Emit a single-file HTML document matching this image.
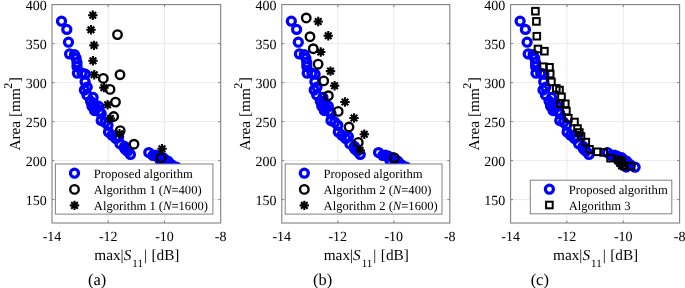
<!DOCTYPE html>
<html><head><meta charset="utf-8"><style>
html,body{margin:0;padding:0;background:#fff;}
body{width:685px;height:288px;overflow:hidden;}
svg{display:block;will-change:transform;}
text{font-family:"Liberation Serif",serif;fill:#000;text-rendering:geometricPrecision;}
</style></head><body>
<svg width="685" height="288" viewBox="0 0 685 288">
<line x1="108.23" y1="4.6" x2="108.23" y2="223.0" stroke="#e3e3e3" stroke-width="0.8"/>
<line x1="164.47" y1="4.6" x2="164.47" y2="223.0" stroke="#e3e3e3" stroke-width="0.8"/>
<line x1="52.0" y1="199.60" x2="220.7" y2="199.60" stroke="#e3e3e3" stroke-width="0.8"/>
<line x1="52.0" y1="160.60" x2="220.7" y2="160.60" stroke="#e3e3e3" stroke-width="0.8"/>
<line x1="52.0" y1="121.60" x2="220.7" y2="121.60" stroke="#e3e3e3" stroke-width="0.8"/>
<line x1="52.0" y1="82.60" x2="220.7" y2="82.60" stroke="#e3e3e3" stroke-width="0.8"/>
<line x1="52.0" y1="43.60" x2="220.7" y2="43.60" stroke="#e3e3e3" stroke-width="0.8"/>
<circle cx="61.50" cy="21.20" r="4.05" fill="none" stroke="#0000ff" stroke-width="3.2"/>
<circle cx="66.80" cy="29.40" r="4.05" fill="none" stroke="#0000ff" stroke-width="3.2"/>
<circle cx="68.50" cy="42.20" r="4.05" fill="none" stroke="#0000ff" stroke-width="3.2"/>
<circle cx="69.60" cy="53.90" r="4.05" fill="none" stroke="#0000ff" stroke-width="3.2"/>
<circle cx="74.50" cy="54.70" r="4.05" fill="none" stroke="#0000ff" stroke-width="3.2"/>
<circle cx="76.10" cy="58.20" r="4.05" fill="none" stroke="#0000ff" stroke-width="3.2"/>
<circle cx="77.00" cy="62.70" r="4.05" fill="none" stroke="#0000ff" stroke-width="3.2"/>
<circle cx="77.00" cy="66.60" r="4.05" fill="none" stroke="#0000ff" stroke-width="3.2"/>
<circle cx="77.40" cy="73.20" r="4.05" fill="none" stroke="#0000ff" stroke-width="3.2"/>
<circle cx="82.10" cy="73.20" r="4.05" fill="none" stroke="#0000ff" stroke-width="3.2"/>
<circle cx="85.30" cy="74.20" r="4.05" fill="none" stroke="#0000ff" stroke-width="3.2"/>
<circle cx="85.10" cy="81.70" r="4.05" fill="none" stroke="#0000ff" stroke-width="3.2"/>
<circle cx="87.20" cy="87.20" r="4.05" fill="none" stroke="#0000ff" stroke-width="3.2"/>
<circle cx="84.40" cy="90.00" r="4.05" fill="none" stroke="#0000ff" stroke-width="3.2"/>
<circle cx="86.90" cy="94.90" r="4.05" fill="none" stroke="#0000ff" stroke-width="3.2"/>
<circle cx="93.10" cy="97.50" r="4.05" fill="none" stroke="#0000ff" stroke-width="3.2"/>
<circle cx="90.50" cy="101.20" r="4.05" fill="none" stroke="#0000ff" stroke-width="3.2"/>
<circle cx="93.50" cy="103.70" r="4.05" fill="none" stroke="#0000ff" stroke-width="3.2"/>
<circle cx="92.00" cy="106.20" r="4.05" fill="none" stroke="#0000ff" stroke-width="3.2"/>
<circle cx="96.00" cy="108.20" r="4.05" fill="none" stroke="#0000ff" stroke-width="3.2"/>
<circle cx="94.50" cy="110.50" r="4.05" fill="none" stroke="#0000ff" stroke-width="3.2"/>
<circle cx="98.50" cy="106.20" r="4.05" fill="none" stroke="#0000ff" stroke-width="3.2"/>
<circle cx="99.50" cy="111.20" r="4.05" fill="none" stroke="#0000ff" stroke-width="3.2"/>
<circle cx="101.20" cy="113.80" r="4.05" fill="none" stroke="#0000ff" stroke-width="3.2"/>
<circle cx="101.20" cy="120.60" r="4.05" fill="none" stroke="#0000ff" stroke-width="3.2"/>
<circle cx="105.00" cy="122.20" r="4.05" fill="none" stroke="#0000ff" stroke-width="3.2"/>
<circle cx="108.00" cy="125.30" r="4.05" fill="none" stroke="#0000ff" stroke-width="3.2"/>
<circle cx="108.50" cy="132.10" r="4.05" fill="none" stroke="#0000ff" stroke-width="3.2"/>
<circle cx="112.00" cy="135.20" r="4.05" fill="none" stroke="#0000ff" stroke-width="3.2"/>
<circle cx="115.90" cy="138.60" r="4.05" fill="none" stroke="#0000ff" stroke-width="3.2"/>
<circle cx="118.60" cy="136.70" r="4.05" fill="none" stroke="#0000ff" stroke-width="3.2"/>
<circle cx="120.00" cy="143.80" r="4.05" fill="none" stroke="#0000ff" stroke-width="3.2"/>
<circle cx="124.50" cy="148.00" r="4.05" fill="none" stroke="#0000ff" stroke-width="3.2"/>
<circle cx="125.20" cy="149.20" r="4.05" fill="none" stroke="#0000ff" stroke-width="3.2"/>
<circle cx="127.50" cy="151.20" r="4.05" fill="none" stroke="#0000ff" stroke-width="3.2"/>
<circle cx="130.40" cy="154.40" r="4.05" fill="none" stroke="#0000ff" stroke-width="3.2"/>
<circle cx="124.60" cy="146.50" r="4.05" fill="none" stroke="#0000ff" stroke-width="3.2"/>
<circle cx="148.80" cy="152.60" r="4.05" fill="none" stroke="#0000ff" stroke-width="3.2"/>
<circle cx="153.00" cy="155.40" r="4.05" fill="none" stroke="#0000ff" stroke-width="3.2"/>
<circle cx="155.50" cy="155.20" r="4.05" fill="none" stroke="#0000ff" stroke-width="3.2"/>
<circle cx="158.50" cy="156.20" r="4.05" fill="none" stroke="#0000ff" stroke-width="3.2"/>
<circle cx="163.00" cy="157.70" r="4.05" fill="none" stroke="#0000ff" stroke-width="3.2"/>
<circle cx="160.00" cy="160.20" r="4.05" fill="none" stroke="#0000ff" stroke-width="3.2"/>
<circle cx="165.50" cy="160.20" r="4.05" fill="none" stroke="#0000ff" stroke-width="3.2"/>
<circle cx="168.00" cy="161.20" r="4.05" fill="none" stroke="#0000ff" stroke-width="3.2"/>
<circle cx="171.50" cy="164.70" r="4.05" fill="none" stroke="#0000ff" stroke-width="3.2"/>
<circle cx="167.60" cy="167.00" r="4.05" fill="none" stroke="#0000ff" stroke-width="3.2"/>
<circle cx="176.50" cy="167.20" r="4.05" fill="none" stroke="#0000ff" stroke-width="3.2"/>
<circle cx="117.50" cy="34.60" r="4.25" fill="none" stroke="#000" stroke-width="2.35"/>
<circle cx="103.30" cy="78.40" r="4.25" fill="none" stroke="#000" stroke-width="2.35"/>
<circle cx="120.00" cy="74.70" r="4.25" fill="none" stroke="#000" stroke-width="2.35"/>
<circle cx="110.00" cy="89.40" r="4.25" fill="none" stroke="#000" stroke-width="2.35"/>
<circle cx="115.50" cy="102.10" r="4.25" fill="none" stroke="#000" stroke-width="2.35"/>
<circle cx="113.70" cy="116.50" r="4.25" fill="none" stroke="#000" stroke-width="2.35"/>
<circle cx="120.20" cy="130.60" r="4.25" fill="none" stroke="#000" stroke-width="2.35"/>
<circle cx="134.00" cy="144.20" r="4.25" fill="none" stroke="#000" stroke-width="2.35"/>
<circle cx="161.00" cy="157.90" r="4.25" fill="none" stroke="#000" stroke-width="2.35"/>
<path d="M92.80 10.60V20.00M88.10 15.30H97.50M89.50 12.00L96.10 18.60M89.50 18.60L96.10 12.00" stroke="#000" stroke-width="2.1" fill="none"/>
<path d="M91.00 25.00V34.40M86.30 29.70H95.70M87.70 26.40L94.30 33.00M87.70 33.00L94.30 26.40" stroke="#000" stroke-width="2.1" fill="none"/>
<path d="M94.00 40.70V50.10M89.30 45.40H98.70M90.70 42.10L97.30 48.70M90.70 48.70L97.30 42.10" stroke="#000" stroke-width="2.1" fill="none"/>
<path d="M93.00 56.00V65.40M88.30 60.70H97.70M89.70 57.40L96.30 64.00M89.70 64.00L96.30 57.40" stroke="#000" stroke-width="2.1" fill="none"/>
<path d="M94.20 70.10V79.50M89.50 74.80H98.90M90.90 71.50L97.50 78.10M90.90 78.10L97.50 71.50" stroke="#000" stroke-width="2.1" fill="none"/>
<path d="M103.90 82.90V92.30M99.20 87.60H108.60M100.60 84.30L107.20 90.90M100.60 90.90L107.20 84.30" stroke="#000" stroke-width="2.1" fill="none"/>
<path d="M107.60 100.10V109.50M102.90 104.80H112.30M104.30 101.50L110.90 108.10M104.30 108.10L110.90 101.50" stroke="#000" stroke-width="2.1" fill="none"/>
<path d="M110.40 113.80V123.20M105.70 118.50H115.10M107.10 115.20L113.70 121.80M107.10 121.80L113.70 115.20" stroke="#000" stroke-width="2.1" fill="none"/>
<path d="M119.50 129.05V138.45M114.80 133.75H124.20M116.20 130.45L122.80 137.05M116.20 137.05L122.80 130.45" stroke="#000" stroke-width="2.1" fill="none"/>
<path d="M162.00 144.00V153.40M157.30 148.70H166.70M158.70 145.40L165.30 152.00M158.70 152.00L165.30 145.40" stroke="#000" stroke-width="2.1" fill="none"/>
<rect x="52.0" y="4.6" width="168.70" height="218.40" fill="none" stroke="#808080" stroke-width="1.1"/>
<line x1="108.23" y1="223.0" x2="108.23" y2="220.6" stroke="#808080" stroke-width="1"/>
<line x1="108.23" y1="4.6" x2="108.23" y2="7.0" stroke="#808080" stroke-width="1"/>
<line x1="164.47" y1="223.0" x2="164.47" y2="220.6" stroke="#808080" stroke-width="1"/>
<line x1="164.47" y1="4.6" x2="164.47" y2="7.0" stroke="#808080" stroke-width="1"/>
<line x1="52.0" y1="199.60" x2="54.4" y2="199.60" stroke="#808080" stroke-width="1"/>
<line x1="220.7" y1="199.60" x2="218.29999999999998" y2="199.60" stroke="#808080" stroke-width="1"/>
<line x1="52.0" y1="160.60" x2="54.4" y2="160.60" stroke="#808080" stroke-width="1"/>
<line x1="220.7" y1="160.60" x2="218.29999999999998" y2="160.60" stroke="#808080" stroke-width="1"/>
<line x1="52.0" y1="121.60" x2="54.4" y2="121.60" stroke="#808080" stroke-width="1"/>
<line x1="220.7" y1="121.60" x2="218.29999999999998" y2="121.60" stroke="#808080" stroke-width="1"/>
<line x1="52.0" y1="82.60" x2="54.4" y2="82.60" stroke="#808080" stroke-width="1"/>
<line x1="220.7" y1="82.60" x2="218.29999999999998" y2="82.60" stroke="#808080" stroke-width="1"/>
<line x1="52.0" y1="43.60" x2="54.4" y2="43.60" stroke="#808080" stroke-width="1"/>
<line x1="220.7" y1="43.60" x2="218.29999999999998" y2="43.60" stroke="#808080" stroke-width="1"/>
<text x="52.00" y="241.4" text-anchor="middle" font-size="14">-14</text>
<text x="108.23" y="241.4" text-anchor="middle" font-size="14">-12</text>
<text x="164.47" y="241.4" text-anchor="middle" font-size="14">-10</text>
<text x="220.70" y="241.4" text-anchor="middle" font-size="14">-8</text>
<text x="46.70" y="204.90" text-anchor="end" font-size="14">150</text>
<text x="46.70" y="165.90" text-anchor="end" font-size="14">200</text>
<text x="46.70" y="126.90" text-anchor="end" font-size="14">250</text>
<text x="46.70" y="87.90" text-anchor="end" font-size="14">300</text>
<text x="46.70" y="48.90" text-anchor="end" font-size="14">350</text>
<text x="46.70" y="9.90" text-anchor="end" font-size="14">400</text>
<text x="136.85" y="259.5" text-anchor="middle" font-size="15.3">max|<tspan font-style="italic">S</tspan><tspan font-size="11" dx="1" dy="7">11</tspan><tspan dx="1" dy="-7">|</tspan><tspan dx="0.6"> [dB]</tspan></text>
<text transform="translate(20.00,113.80) rotate(-90)" text-anchor="middle" font-size="15.3">Area [mm<tspan font-size="12" dx="-0.6" dy="-7.9">2</tspan><tspan dx="0.6" dy="7.9">]</tspan></text>
<rect x="55.4" y="164" width="157.50" height="50.10" fill="#fff" stroke="#808080" stroke-width="1"/>
<circle cx="74.50" cy="173.20" r="4.05" fill="none" stroke="#0000ff" stroke-width="3.2"/>
<text x="93.80" y="177.60" font-size="12.6">Proposed algorithm</text>
<circle cx="74.50" cy="189.40" r="4.25" fill="none" stroke="#000" stroke-width="2.35"/>
<text x="93.80" y="193.80" font-size="12.6">Algorithm 1 (<tspan font-style="italic">N</tspan>=400)</text>
<path d="M74.50 200.70V210.10M69.80 205.40H79.20M71.20 202.10L77.80 208.70M71.20 208.70L77.80 202.10" stroke="#000" stroke-width="2.1" fill="none"/>
<text x="93.80" y="210.00" font-size="12.6">Algorithm 1 (<tspan font-style="italic">N</tspan>=1600)</text>
<line x1="337.80" y1="4.6" x2="337.80" y2="223.0" stroke="#e3e3e3" stroke-width="0.8"/>
<line x1="393.80" y1="4.6" x2="393.80" y2="223.0" stroke="#e3e3e3" stroke-width="0.8"/>
<line x1="281.8" y1="199.60" x2="449.8" y2="199.60" stroke="#e3e3e3" stroke-width="0.8"/>
<line x1="281.8" y1="160.60" x2="449.8" y2="160.60" stroke="#e3e3e3" stroke-width="0.8"/>
<line x1="281.8" y1="121.60" x2="449.8" y2="121.60" stroke="#e3e3e3" stroke-width="0.8"/>
<line x1="281.8" y1="82.60" x2="449.8" y2="82.60" stroke="#e3e3e3" stroke-width="0.8"/>
<line x1="281.8" y1="43.60" x2="449.8" y2="43.60" stroke="#e3e3e3" stroke-width="0.8"/>
<circle cx="291.30" cy="21.20" r="4.05" fill="none" stroke="#0000ff" stroke-width="3.2"/>
<circle cx="296.60" cy="29.40" r="4.05" fill="none" stroke="#0000ff" stroke-width="3.2"/>
<circle cx="298.30" cy="42.20" r="4.05" fill="none" stroke="#0000ff" stroke-width="3.2"/>
<circle cx="299.40" cy="53.90" r="4.05" fill="none" stroke="#0000ff" stroke-width="3.2"/>
<circle cx="304.30" cy="54.70" r="4.05" fill="none" stroke="#0000ff" stroke-width="3.2"/>
<circle cx="305.90" cy="58.20" r="4.05" fill="none" stroke="#0000ff" stroke-width="3.2"/>
<circle cx="306.80" cy="62.70" r="4.05" fill="none" stroke="#0000ff" stroke-width="3.2"/>
<circle cx="306.80" cy="66.60" r="4.05" fill="none" stroke="#0000ff" stroke-width="3.2"/>
<circle cx="307.20" cy="73.20" r="4.05" fill="none" stroke="#0000ff" stroke-width="3.2"/>
<circle cx="311.90" cy="73.20" r="4.05" fill="none" stroke="#0000ff" stroke-width="3.2"/>
<circle cx="315.10" cy="74.20" r="4.05" fill="none" stroke="#0000ff" stroke-width="3.2"/>
<circle cx="314.90" cy="81.70" r="4.05" fill="none" stroke="#0000ff" stroke-width="3.2"/>
<circle cx="317.00" cy="87.20" r="4.05" fill="none" stroke="#0000ff" stroke-width="3.2"/>
<circle cx="314.20" cy="90.00" r="4.05" fill="none" stroke="#0000ff" stroke-width="3.2"/>
<circle cx="316.70" cy="94.90" r="4.05" fill="none" stroke="#0000ff" stroke-width="3.2"/>
<circle cx="322.90" cy="97.50" r="4.05" fill="none" stroke="#0000ff" stroke-width="3.2"/>
<circle cx="320.30" cy="101.20" r="4.05" fill="none" stroke="#0000ff" stroke-width="3.2"/>
<circle cx="323.30" cy="103.70" r="4.05" fill="none" stroke="#0000ff" stroke-width="3.2"/>
<circle cx="321.80" cy="106.20" r="4.05" fill="none" stroke="#0000ff" stroke-width="3.2"/>
<circle cx="325.80" cy="108.20" r="4.05" fill="none" stroke="#0000ff" stroke-width="3.2"/>
<circle cx="324.30" cy="110.50" r="4.05" fill="none" stroke="#0000ff" stroke-width="3.2"/>
<circle cx="328.30" cy="106.20" r="4.05" fill="none" stroke="#0000ff" stroke-width="3.2"/>
<circle cx="329.30" cy="111.20" r="4.05" fill="none" stroke="#0000ff" stroke-width="3.2"/>
<circle cx="331.00" cy="113.80" r="4.05" fill="none" stroke="#0000ff" stroke-width="3.2"/>
<circle cx="331.00" cy="120.60" r="4.05" fill="none" stroke="#0000ff" stroke-width="3.2"/>
<circle cx="334.80" cy="122.20" r="4.05" fill="none" stroke="#0000ff" stroke-width="3.2"/>
<circle cx="337.80" cy="125.30" r="4.05" fill="none" stroke="#0000ff" stroke-width="3.2"/>
<circle cx="338.30" cy="132.10" r="4.05" fill="none" stroke="#0000ff" stroke-width="3.2"/>
<circle cx="341.80" cy="135.20" r="4.05" fill="none" stroke="#0000ff" stroke-width="3.2"/>
<circle cx="345.70" cy="138.60" r="4.05" fill="none" stroke="#0000ff" stroke-width="3.2"/>
<circle cx="348.40" cy="136.70" r="4.05" fill="none" stroke="#0000ff" stroke-width="3.2"/>
<circle cx="349.80" cy="143.80" r="4.05" fill="none" stroke="#0000ff" stroke-width="3.2"/>
<circle cx="354.30" cy="148.00" r="4.05" fill="none" stroke="#0000ff" stroke-width="3.2"/>
<circle cx="355.00" cy="149.20" r="4.05" fill="none" stroke="#0000ff" stroke-width="3.2"/>
<circle cx="357.30" cy="151.20" r="4.05" fill="none" stroke="#0000ff" stroke-width="3.2"/>
<circle cx="360.20" cy="154.40" r="4.05" fill="none" stroke="#0000ff" stroke-width="3.2"/>
<circle cx="354.40" cy="146.50" r="4.05" fill="none" stroke="#0000ff" stroke-width="3.2"/>
<circle cx="378.60" cy="152.60" r="4.05" fill="none" stroke="#0000ff" stroke-width="3.2"/>
<circle cx="382.80" cy="155.40" r="4.05" fill="none" stroke="#0000ff" stroke-width="3.2"/>
<circle cx="385.30" cy="155.20" r="4.05" fill="none" stroke="#0000ff" stroke-width="3.2"/>
<circle cx="388.30" cy="156.20" r="4.05" fill="none" stroke="#0000ff" stroke-width="3.2"/>
<circle cx="392.80" cy="157.70" r="4.05" fill="none" stroke="#0000ff" stroke-width="3.2"/>
<circle cx="389.80" cy="160.20" r="4.05" fill="none" stroke="#0000ff" stroke-width="3.2"/>
<circle cx="395.30" cy="160.20" r="4.05" fill="none" stroke="#0000ff" stroke-width="3.2"/>
<circle cx="397.80" cy="161.20" r="4.05" fill="none" stroke="#0000ff" stroke-width="3.2"/>
<circle cx="401.30" cy="164.70" r="4.05" fill="none" stroke="#0000ff" stroke-width="3.2"/>
<circle cx="397.40" cy="167.00" r="4.05" fill="none" stroke="#0000ff" stroke-width="3.2"/>
<circle cx="406.30" cy="167.20" r="4.05" fill="none" stroke="#0000ff" stroke-width="3.2"/>
<circle cx="306.25" cy="17.95" r="4.25" fill="none" stroke="#000" stroke-width="2.35"/>
<circle cx="310.00" cy="36.70" r="4.25" fill="none" stroke="#000" stroke-width="2.35"/>
<circle cx="313.25" cy="48.70" r="4.25" fill="none" stroke="#000" stroke-width="2.35"/>
<circle cx="318.10" cy="64.20" r="4.25" fill="none" stroke="#000" stroke-width="2.35"/>
<circle cx="323.70" cy="80.90" r="4.25" fill="none" stroke="#000" stroke-width="2.35"/>
<circle cx="328.40" cy="95.70" r="4.25" fill="none" stroke="#000" stroke-width="2.35"/>
<circle cx="338.20" cy="111.40" r="4.25" fill="none" stroke="#000" stroke-width="2.35"/>
<circle cx="349.00" cy="127.00" r="4.25" fill="none" stroke="#000" stroke-width="2.35"/>
<circle cx="358.30" cy="142.40" r="4.25" fill="none" stroke="#000" stroke-width="2.35"/>
<circle cx="394.40" cy="157.80" r="4.25" fill="none" stroke="#000" stroke-width="2.35"/>
<path d="M318.25 16.80V26.20M313.55 21.50H322.95M314.95 18.20L321.55 24.80M314.95 24.80L321.55 18.20" stroke="#000" stroke-width="2.1" fill="none"/>
<path d="M328.25 31.05V40.45M323.55 35.75H332.95M324.95 32.45L331.55 39.05M324.95 39.05L331.55 32.45" stroke="#000" stroke-width="2.1" fill="none"/>
<path d="M320.75 47.30V56.70M316.05 52.00H325.45M317.45 48.70L324.05 55.30M317.45 55.30L324.05 48.70" stroke="#000" stroke-width="2.1" fill="none"/>
<path d="M330.50 66.40V75.80M325.80 71.10H335.20M327.20 67.80L333.80 74.40M327.20 74.40L333.80 67.80" stroke="#000" stroke-width="2.1" fill="none"/>
<path d="M334.60 81.00V90.40M329.90 85.70H339.30M331.30 82.40L337.90 89.00M331.30 89.00L337.90 82.40" stroke="#000" stroke-width="2.1" fill="none"/>
<path d="M345.00 97.30V106.70M340.30 102.00H349.70M341.70 98.70L348.30 105.30M341.70 105.30L348.30 98.70" stroke="#000" stroke-width="2.1" fill="none"/>
<path d="M354.00 113.30V122.70M349.30 118.00H358.70M350.70 114.70L357.30 121.30M350.70 121.30L357.30 114.70" stroke="#000" stroke-width="2.1" fill="none"/>
<path d="M364.30 129.50V138.90M359.60 134.20H369.00M361.00 130.90L367.60 137.50M361.00 137.50L367.60 130.90" stroke="#000" stroke-width="2.1" fill="none"/>
<path d="M360.10 145.50V154.90M355.40 150.20H364.80M356.80 146.90L363.40 153.50M356.80 153.50L363.40 146.90" stroke="#000" stroke-width="2.1" fill="none"/>
<rect x="281.8" y="4.6" width="168.00" height="218.40" fill="none" stroke="#808080" stroke-width="1.1"/>
<line x1="337.80" y1="223.0" x2="337.80" y2="220.6" stroke="#808080" stroke-width="1"/>
<line x1="337.80" y1="4.6" x2="337.80" y2="7.0" stroke="#808080" stroke-width="1"/>
<line x1="393.80" y1="223.0" x2="393.80" y2="220.6" stroke="#808080" stroke-width="1"/>
<line x1="393.80" y1="4.6" x2="393.80" y2="7.0" stroke="#808080" stroke-width="1"/>
<line x1="281.8" y1="199.60" x2="284.2" y2="199.60" stroke="#808080" stroke-width="1"/>
<line x1="449.8" y1="199.60" x2="447.40000000000003" y2="199.60" stroke="#808080" stroke-width="1"/>
<line x1="281.8" y1="160.60" x2="284.2" y2="160.60" stroke="#808080" stroke-width="1"/>
<line x1="449.8" y1="160.60" x2="447.40000000000003" y2="160.60" stroke="#808080" stroke-width="1"/>
<line x1="281.8" y1="121.60" x2="284.2" y2="121.60" stroke="#808080" stroke-width="1"/>
<line x1="449.8" y1="121.60" x2="447.40000000000003" y2="121.60" stroke="#808080" stroke-width="1"/>
<line x1="281.8" y1="82.60" x2="284.2" y2="82.60" stroke="#808080" stroke-width="1"/>
<line x1="449.8" y1="82.60" x2="447.40000000000003" y2="82.60" stroke="#808080" stroke-width="1"/>
<line x1="281.8" y1="43.60" x2="284.2" y2="43.60" stroke="#808080" stroke-width="1"/>
<line x1="449.8" y1="43.60" x2="447.40000000000003" y2="43.60" stroke="#808080" stroke-width="1"/>
<text x="281.80" y="241.4" text-anchor="middle" font-size="14">-14</text>
<text x="337.80" y="241.4" text-anchor="middle" font-size="14">-12</text>
<text x="393.80" y="241.4" text-anchor="middle" font-size="14">-10</text>
<text x="449.80" y="241.4" text-anchor="middle" font-size="14">-8</text>
<text x="276.50" y="204.90" text-anchor="end" font-size="14">150</text>
<text x="276.50" y="165.90" text-anchor="end" font-size="14">200</text>
<text x="276.50" y="126.90" text-anchor="end" font-size="14">250</text>
<text x="276.50" y="87.90" text-anchor="end" font-size="14">300</text>
<text x="276.50" y="48.90" text-anchor="end" font-size="14">350</text>
<text x="276.50" y="9.90" text-anchor="end" font-size="14">400</text>
<text x="366.30" y="259.5" text-anchor="middle" font-size="15.3">max|<tspan font-style="italic">S</tspan><tspan font-size="11" dx="1" dy="7">11</tspan><tspan dx="1" dy="-7">|</tspan><tspan dx="0.6"> [dB]</tspan></text>
<text transform="translate(249.80,113.80) rotate(-90)" text-anchor="middle" font-size="15.3">Area [mm<tspan font-size="12" dx="-0.6" dy="-7.9">2</tspan><tspan dx="0.6" dy="7.9">]</tspan></text>
<rect x="285.2" y="164" width="156.80" height="50.10" fill="#fff" stroke="#808080" stroke-width="1"/>
<circle cx="304.30" cy="173.20" r="4.05" fill="none" stroke="#0000ff" stroke-width="3.2"/>
<text x="323.60" y="177.60" font-size="12.6">Proposed algorithm</text>
<circle cx="304.30" cy="189.40" r="4.25" fill="none" stroke="#000" stroke-width="2.35"/>
<text x="323.60" y="193.80" font-size="12.6">Algorithm 2 (<tspan font-style="italic">N</tspan>=400)</text>
<path d="M304.30 200.70V210.10M299.60 205.40H309.00M301.00 202.10L307.60 208.70M301.00 208.70L307.60 202.10" stroke="#000" stroke-width="2.1" fill="none"/>
<text x="323.60" y="210.00" font-size="12.6">Algorithm 2 (<tspan font-style="italic">N</tspan>=1600)</text>
<line x1="566.93" y1="4.6" x2="566.93" y2="223.0" stroke="#e3e3e3" stroke-width="0.8"/>
<line x1="623.27" y1="4.6" x2="623.27" y2="223.0" stroke="#e3e3e3" stroke-width="0.8"/>
<line x1="510.6" y1="199.60" x2="679.6" y2="199.60" stroke="#e3e3e3" stroke-width="0.8"/>
<line x1="510.6" y1="160.60" x2="679.6" y2="160.60" stroke="#e3e3e3" stroke-width="0.8"/>
<line x1="510.6" y1="121.60" x2="679.6" y2="121.60" stroke="#e3e3e3" stroke-width="0.8"/>
<line x1="510.6" y1="82.60" x2="679.6" y2="82.60" stroke="#e3e3e3" stroke-width="0.8"/>
<line x1="510.6" y1="43.60" x2="679.6" y2="43.60" stroke="#e3e3e3" stroke-width="0.8"/>
<circle cx="520.10" cy="21.20" r="4.05" fill="none" stroke="#0000ff" stroke-width="3.2"/>
<circle cx="525.40" cy="29.40" r="4.05" fill="none" stroke="#0000ff" stroke-width="3.2"/>
<circle cx="527.10" cy="42.20" r="4.05" fill="none" stroke="#0000ff" stroke-width="3.2"/>
<circle cx="528.20" cy="53.90" r="4.05" fill="none" stroke="#0000ff" stroke-width="3.2"/>
<circle cx="533.10" cy="54.70" r="4.05" fill="none" stroke="#0000ff" stroke-width="3.2"/>
<circle cx="534.70" cy="58.20" r="4.05" fill="none" stroke="#0000ff" stroke-width="3.2"/>
<circle cx="535.60" cy="62.70" r="4.05" fill="none" stroke="#0000ff" stroke-width="3.2"/>
<circle cx="535.60" cy="66.60" r="4.05" fill="none" stroke="#0000ff" stroke-width="3.2"/>
<circle cx="536.00" cy="73.20" r="4.05" fill="none" stroke="#0000ff" stroke-width="3.2"/>
<circle cx="540.70" cy="73.20" r="4.05" fill="none" stroke="#0000ff" stroke-width="3.2"/>
<circle cx="543.90" cy="74.20" r="4.05" fill="none" stroke="#0000ff" stroke-width="3.2"/>
<circle cx="543.70" cy="81.70" r="4.05" fill="none" stroke="#0000ff" stroke-width="3.2"/>
<circle cx="545.80" cy="87.20" r="4.05" fill="none" stroke="#0000ff" stroke-width="3.2"/>
<circle cx="543.00" cy="90.00" r="4.05" fill="none" stroke="#0000ff" stroke-width="3.2"/>
<circle cx="545.50" cy="94.90" r="4.05" fill="none" stroke="#0000ff" stroke-width="3.2"/>
<circle cx="551.70" cy="97.50" r="4.05" fill="none" stroke="#0000ff" stroke-width="3.2"/>
<circle cx="549.10" cy="101.20" r="4.05" fill="none" stroke="#0000ff" stroke-width="3.2"/>
<circle cx="552.10" cy="103.70" r="4.05" fill="none" stroke="#0000ff" stroke-width="3.2"/>
<circle cx="550.60" cy="106.20" r="4.05" fill="none" stroke="#0000ff" stroke-width="3.2"/>
<circle cx="554.60" cy="108.20" r="4.05" fill="none" stroke="#0000ff" stroke-width="3.2"/>
<circle cx="553.10" cy="110.50" r="4.05" fill="none" stroke="#0000ff" stroke-width="3.2"/>
<circle cx="557.10" cy="106.20" r="4.05" fill="none" stroke="#0000ff" stroke-width="3.2"/>
<circle cx="558.10" cy="111.20" r="4.05" fill="none" stroke="#0000ff" stroke-width="3.2"/>
<circle cx="559.80" cy="113.80" r="4.05" fill="none" stroke="#0000ff" stroke-width="3.2"/>
<circle cx="559.80" cy="120.60" r="4.05" fill="none" stroke="#0000ff" stroke-width="3.2"/>
<circle cx="563.60" cy="122.20" r="4.05" fill="none" stroke="#0000ff" stroke-width="3.2"/>
<circle cx="566.60" cy="125.30" r="4.05" fill="none" stroke="#0000ff" stroke-width="3.2"/>
<circle cx="567.10" cy="132.10" r="4.05" fill="none" stroke="#0000ff" stroke-width="3.2"/>
<circle cx="570.60" cy="135.20" r="4.05" fill="none" stroke="#0000ff" stroke-width="3.2"/>
<circle cx="574.50" cy="138.60" r="4.05" fill="none" stroke="#0000ff" stroke-width="3.2"/>
<circle cx="577.20" cy="136.70" r="4.05" fill="none" stroke="#0000ff" stroke-width="3.2"/>
<circle cx="578.60" cy="143.80" r="4.05" fill="none" stroke="#0000ff" stroke-width="3.2"/>
<circle cx="583.10" cy="148.00" r="4.05" fill="none" stroke="#0000ff" stroke-width="3.2"/>
<circle cx="583.80" cy="149.20" r="4.05" fill="none" stroke="#0000ff" stroke-width="3.2"/>
<circle cx="586.10" cy="151.20" r="4.05" fill="none" stroke="#0000ff" stroke-width="3.2"/>
<circle cx="589.00" cy="154.40" r="4.05" fill="none" stroke="#0000ff" stroke-width="3.2"/>
<circle cx="583.20" cy="146.50" r="4.05" fill="none" stroke="#0000ff" stroke-width="3.2"/>
<circle cx="607.40" cy="152.60" r="4.05" fill="none" stroke="#0000ff" stroke-width="3.2"/>
<circle cx="611.60" cy="155.40" r="4.05" fill="none" stroke="#0000ff" stroke-width="3.2"/>
<circle cx="614.10" cy="155.20" r="4.05" fill="none" stroke="#0000ff" stroke-width="3.2"/>
<circle cx="617.10" cy="156.20" r="4.05" fill="none" stroke="#0000ff" stroke-width="3.2"/>
<circle cx="621.60" cy="157.70" r="4.05" fill="none" stroke="#0000ff" stroke-width="3.2"/>
<circle cx="618.60" cy="160.20" r="4.05" fill="none" stroke="#0000ff" stroke-width="3.2"/>
<circle cx="624.10" cy="160.20" r="4.05" fill="none" stroke="#0000ff" stroke-width="3.2"/>
<circle cx="626.60" cy="161.20" r="4.05" fill="none" stroke="#0000ff" stroke-width="3.2"/>
<circle cx="630.10" cy="164.70" r="4.05" fill="none" stroke="#0000ff" stroke-width="3.2"/>
<circle cx="626.20" cy="167.00" r="4.05" fill="none" stroke="#0000ff" stroke-width="3.2"/>
<circle cx="635.10" cy="167.20" r="4.05" fill="none" stroke="#0000ff" stroke-width="3.2"/>
<rect x="532.10" y="7.90" width="6.60" height="6.60" fill="none" stroke="#000" stroke-width="2"/>
<rect x="533.10" y="18.10" width="6.60" height="6.60" fill="none" stroke="#000" stroke-width="2"/>
<rect x="533.50" y="32.90" width="6.60" height="6.60" fill="none" stroke="#000" stroke-width="2"/>
<rect x="534.70" y="45.70" width="6.60" height="6.60" fill="none" stroke="#000" stroke-width="2"/>
<rect x="541.10" y="47.90" width="6.60" height="6.60" fill="none" stroke="#000" stroke-width="2"/>
<rect x="540.20" y="63.40" width="6.60" height="6.60" fill="none" stroke="#000" stroke-width="2"/>
<rect x="546.20" y="64.00" width="6.60" height="6.60" fill="none" stroke="#000" stroke-width="2"/>
<rect x="546.90" y="70.70" width="6.60" height="6.60" fill="none" stroke="#000" stroke-width="2"/>
<rect x="548.10" y="78.60" width="6.60" height="6.60" fill="none" stroke="#000" stroke-width="2"/>
<rect x="553.00" y="85.10" width="6.60" height="6.60" fill="none" stroke="#000" stroke-width="2"/>
<rect x="556.20" y="86.70" width="6.60" height="6.60" fill="none" stroke="#000" stroke-width="2"/>
<rect x="558.20" y="93.50" width="6.60" height="6.60" fill="none" stroke="#000" stroke-width="2"/>
<rect x="557.00" y="100.50" width="6.60" height="6.60" fill="none" stroke="#000" stroke-width="2"/>
<rect x="562.00" y="100.50" width="6.60" height="6.60" fill="none" stroke="#000" stroke-width="2"/>
<rect x="563.10" y="107.80" width="6.60" height="6.60" fill="none" stroke="#000" stroke-width="2"/>
<rect x="565.00" y="114.90" width="6.60" height="6.60" fill="none" stroke="#000" stroke-width="2"/>
<rect x="571.20" y="118.70" width="6.60" height="6.60" fill="none" stroke="#000" stroke-width="2"/>
<rect x="574.20" y="125.20" width="6.60" height="6.60" fill="none" stroke="#000" stroke-width="2"/>
<rect x="576.00" y="129.20" width="6.60" height="6.60" fill="none" stroke="#000" stroke-width="2"/>
<rect x="577.70" y="133.20" width="6.60" height="6.60" fill="none" stroke="#000" stroke-width="2"/>
<rect x="582.50" y="138.80" width="6.60" height="6.60" fill="none" stroke="#000" stroke-width="2"/>
<rect x="586.20" y="146.00" width="6.60" height="6.60" fill="none" stroke="#000" stroke-width="2"/>
<rect x="594.10" y="148.50" width="6.60" height="6.60" fill="none" stroke="#000" stroke-width="2"/>
<rect x="600.40" y="149.10" width="6.60" height="6.60" fill="none" stroke="#000" stroke-width="2"/>
<rect x="607.30" y="154.90" width="6.60" height="6.60" fill="none" stroke="#000" stroke-width="2"/>
<rect x="615.00" y="156.50" width="6.60" height="6.60" fill="none" stroke="#000" stroke-width="2"/>
<rect x="618.20" y="157.50" width="6.60" height="6.60" fill="none" stroke="#000" stroke-width="2"/>
<rect x="617.20" y="159.50" width="6.60" height="6.60" fill="none" stroke="#000" stroke-width="2"/>
<rect x="619.00" y="161.90" width="6.60" height="6.60" fill="none" stroke="#000" stroke-width="2"/>
<rect x="621.20" y="162.90" width="6.60" height="6.60" fill="none" stroke="#000" stroke-width="2"/>
<rect x="627.90" y="163.10" width="6.60" height="6.60" fill="none" stroke="#000" stroke-width="2"/>
<rect x="510.6" y="4.6" width="169.00" height="218.40" fill="none" stroke="#808080" stroke-width="1.1"/>
<line x1="566.93" y1="223.0" x2="566.93" y2="220.6" stroke="#808080" stroke-width="1"/>
<line x1="566.93" y1="4.6" x2="566.93" y2="7.0" stroke="#808080" stroke-width="1"/>
<line x1="623.27" y1="223.0" x2="623.27" y2="220.6" stroke="#808080" stroke-width="1"/>
<line x1="623.27" y1="4.6" x2="623.27" y2="7.0" stroke="#808080" stroke-width="1"/>
<line x1="510.6" y1="199.60" x2="513.0" y2="199.60" stroke="#808080" stroke-width="1"/>
<line x1="679.6" y1="199.60" x2="677.2" y2="199.60" stroke="#808080" stroke-width="1"/>
<line x1="510.6" y1="160.60" x2="513.0" y2="160.60" stroke="#808080" stroke-width="1"/>
<line x1="679.6" y1="160.60" x2="677.2" y2="160.60" stroke="#808080" stroke-width="1"/>
<line x1="510.6" y1="121.60" x2="513.0" y2="121.60" stroke="#808080" stroke-width="1"/>
<line x1="679.6" y1="121.60" x2="677.2" y2="121.60" stroke="#808080" stroke-width="1"/>
<line x1="510.6" y1="82.60" x2="513.0" y2="82.60" stroke="#808080" stroke-width="1"/>
<line x1="679.6" y1="82.60" x2="677.2" y2="82.60" stroke="#808080" stroke-width="1"/>
<line x1="510.6" y1="43.60" x2="513.0" y2="43.60" stroke="#808080" stroke-width="1"/>
<line x1="679.6" y1="43.60" x2="677.2" y2="43.60" stroke="#808080" stroke-width="1"/>
<text x="510.60" y="241.4" text-anchor="middle" font-size="14">-14</text>
<text x="566.93" y="241.4" text-anchor="middle" font-size="14">-12</text>
<text x="623.27" y="241.4" text-anchor="middle" font-size="14">-10</text>
<text x="679.60" y="241.4" text-anchor="middle" font-size="14">-8</text>
<text x="505.30" y="204.90" text-anchor="end" font-size="14">150</text>
<text x="505.30" y="165.90" text-anchor="end" font-size="14">200</text>
<text x="505.30" y="126.90" text-anchor="end" font-size="14">250</text>
<text x="505.30" y="87.90" text-anchor="end" font-size="14">300</text>
<text x="505.30" y="48.90" text-anchor="end" font-size="14">350</text>
<text x="505.30" y="9.90" text-anchor="end" font-size="14">400</text>
<text x="595.60" y="259.5" text-anchor="middle" font-size="15.3">max|<tspan font-style="italic">S</tspan><tspan font-size="11" dx="1" dy="7">11</tspan><tspan dx="1" dy="-7">|</tspan><tspan dx="0.6"> [dB]</tspan></text>
<text transform="translate(478.60,113.80) rotate(-90)" text-anchor="middle" font-size="15.3">Area [mm<tspan font-size="12" dx="-0.6" dy="-7.9">2</tspan><tspan dx="0.6" dy="7.9">]</tspan></text>
<rect x="530.3" y="180.2" width="141.50" height="33.60" fill="#fff" stroke="#808080" stroke-width="1"/>
<circle cx="549.40" cy="189.20" r="4.05" fill="none" stroke="#0000ff" stroke-width="3.2"/>
<text x="568.70" y="193.60" font-size="12.6">Proposed algorithm</text>
<rect x="546.10" y="201.70" width="6.60" height="6.60" fill="none" stroke="#000" stroke-width="2"/>
<text x="568.70" y="209.60" font-size="12.6">Algorithm 3</text>
<text x="97.2" y="284.6" text-anchor="middle" font-size="16.5">(a)</text>
<text x="322.6" y="284.6" text-anchor="middle" font-size="16.5">(b)</text>
<text x="539.8" y="284.6" text-anchor="middle" font-size="16.5">(c)</text>
</svg>
</body></html>
